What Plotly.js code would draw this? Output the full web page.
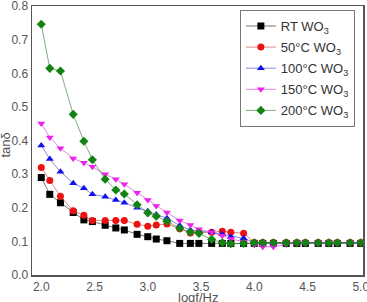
<!DOCTYPE html>
<html>
<head>
<meta charset="utf-8">
<script src="https://cdn.plot.ly/plotly-3.0.1.min.js"></script>
<style>
  html, body { margin: 0; padding: 0; background: #fff; }
  #chart { width: 367px; height: 302px; }
</style>
</head>
<body>
<div id="chart"></div>
<script>
// log10 of measuring frequency (Hz)
const logF = [2.0, 2.08, 2.18, 2.3, 2.4, 2.48, 2.6, 2.7, 2.78, 2.9,
              3.0, 3.08, 3.18, 3.3, 3.4, 3.48, 3.6, 3.7, 3.78, 3.9,
              4.0, 4.08, 4.18, 4.3, 4.4, 4.48, 4.6, 4.7, 4.78, 4.9, 5.0];

// dielectric loss tangent for each annealing temperature
const tanRT = [0.290, 0.240, 0.215, 0.186, 0.164, 0.159, 0.148, 0.140, 0.134, 0.121,
               0.114, 0.107, 0.102, 0.094, 0.094, 0.094, 0.094, 0.094, 0.094, 0.094,
               0.094, 0.094, 0.094, 0.094, 0.094, 0.094, 0.094, 0.094, 0.094, 0.094, 0.094];
const tan50 = [0.320, 0.281, 0.234, 0.191, 0.178, 0.162, 0.162, 0.162, 0.162, 0.151,
               0.145, 0.149, 0.152, 0.138, 0.125, 0.127, 0.127, 0.130, 0.127, 0.124,
               0.097, 0.097, 0.097, 0.097, 0.097, 0.097, 0.097, 0.097, 0.097, 0.097, 0.097];
const tan100 = [0.385, 0.345, 0.307, 0.273, 0.258, 0.240, 0.233, 0.223, 0.215, 0.200,
                0.190, 0.180, 0.169, 0.147, 0.134, 0.130, 0.127, 0.121, 0.114, 0.109,
                0.097, 0.096, 0.096, 0.096, 0.096, 0.096, 0.096, 0.096, 0.096, 0.096, 0.096];
const tan150 = [0.451, 0.409, 0.377, 0.347, 0.334, 0.322, 0.300, 0.285, 0.270, 0.245,
                0.223, 0.205, 0.186, 0.162, 0.149, 0.136, 0.127, 0.117, 0.107, 0.099,
                0.089, 0.084, 0.084, 0.091, 0.097, 0.097, 0.097, 0.097, 0.097, 0.097, 0.097];
const tan200 = [0.746, 0.615, 0.607, 0.478, 0.398, 0.343, 0.285, 0.253, 0.241, 0.209,
                0.185, 0.175, 0.160, 0.139, 0.128, 0.124, 0.106, 0.096, 0.093, 0.094,
                0.096, 0.096, 0.096, 0.096, 0.096, 0.096, 0.096, 0.096, 0.096, 0.096, 0.096];

const seriesNames = ['RT WO<sub>3</sub>', '50°C WO<sub>3</sub>', '100°C WO<sub>3</sub>',
                     '150°C WO<sub>3</sub>', '200°C WO<sub>3</sub>'];
const seriesData = [tanRT, tan50, tan100, tan150, tan200];
const markerColors = ['#000000', '#ee1111', '#1010ee', '#ee22ee', '#128212'];
const lineColors = ['rgba(60,60,60,0.7)', 'rgba(200,60,60,0.6)', 'rgba(60,60,200,0.6)',
                    'rgba(200,60,200,0.6)', 'rgba(40,120,40,0.6)'];
const symbols = ['square', 'circle', 'triangle-up', 'triangle-down', 'diamond'];

const traces = seriesData.map((ys, i) => ({
  x: logF,
  y: ys,
  name: seriesNames[i],
  legendgroup: 'g' + i,
  type: 'scatter',
  mode: 'lines+markers',
  line: { color: lineColors[i], width: 1 },
  marker: { symbol: symbols[i], color: markerColors[i], size: 7, line: { width: 0 } }
}));

const fontFamily = 'Arial, "Liberation Sans", sans-serif';
const axisFont = { family: fontFamily, size: 12, color: '#555' };
const titleFont = { family: fontFamily, size: 13, color: '#555' };

const layout = {
  width: 367,
  height: 302,
  margin: { l: 32, r: 4, t: 6, b: 27 },
  paper_bgcolor: '#fff',
  plot_bgcolor: '#fff',
  showlegend: true,
  legend: {
    x: 0.628, y: 0.985, xanchor: 'left', yanchor: 'top',
    bgcolor: '#fff', bordercolor: '#777', borderwidth: 1,
    font: { family: fontFamily, size: 13, color: '#333' },
    tracegroupgap: 1.2
  },
  xaxis: {
    range: [1.913, 5.021],
    tickvals: [2.0, 2.5, 3.0, 3.5, 4.0, 4.5, 5.0],
    ticktext: ['2.0', '2.5', '3.0', '3.5', '4.0', '4.5', '5.0'],
    ticks: '',
    ticklabeloverflow: 'allow',
    showgrid: false, zeroline: false,
    showline: true, mirror: true, linecolor: '#555', linewidth: 1.5,
    tickfont: axisFont,
    automargin: false
  },
  yaxis: {
    range: [0, 0.8005],
    tickvals: [0, 0.1, 0.2, 0.3, 0.4, 0.5, 0.6, 0.7, 0.8],
    ticktext: ['0.0', '0.1', '0.2', '0.3', '0.4', '0.5', '0.6', '0.7', '0.8'],
    ticks: '',
    ticklabeloverflow: 'allow',
    showgrid: false, zeroline: false,
    showline: true, mirror: true, linecolor: '#555', linewidth: 1.5,
    tickfont: axisFont,
    automargin: false
  },
  // axis titles, placed just outside the tick labels
  annotations: [
    { text: 'logf/Hz', xref: 'paper', yref: 'paper', x: 0.5, y: -0.082,
      xanchor: 'center', yanchor: 'middle', showarrow: false, font: titleFont },
    { text: 'tanδ', xref: 'paper', yref: 'paper', x: -0.08, y: 0.483,
      xanchor: 'center', yanchor: 'middle', textangle: -90, showarrow: false, font: titleFont }
  ]
};

Plotly.newPlot('chart', traces, layout, { displayModeBar: false, staticPlot: true });
</script>
</body>
</html>
